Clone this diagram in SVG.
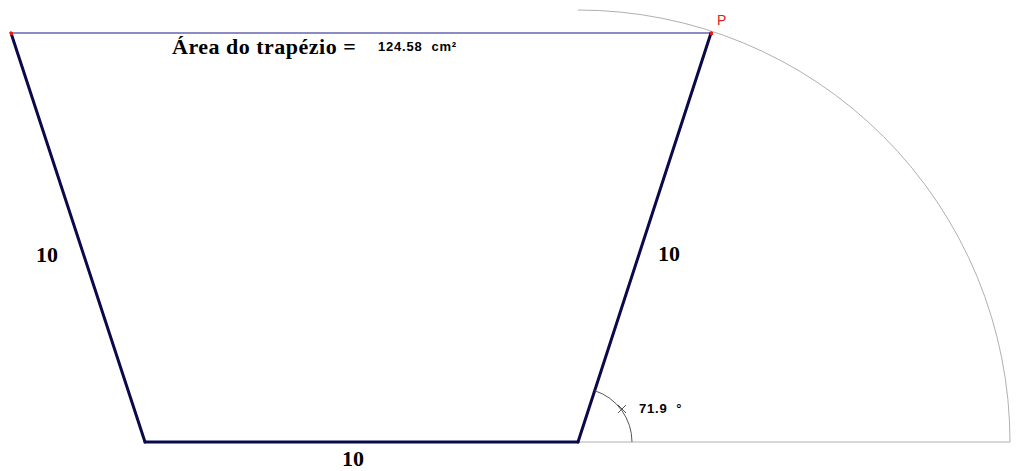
<svg xmlns="http://www.w3.org/2000/svg" width="1023" height="471" viewBox="0 0 1023 471">
<style>
.side{stroke:#0a0a4a;stroke-width:3;fill:none;stroke-linecap:round}
.thin{stroke:#b0b0b0;stroke-width:1;fill:none}
.lbl{font-family:"Liberation Serif",serif;font-weight:bold;font-size:22px;fill:#000}
.sm{font-family:"Liberation Sans",sans-serif;font-weight:bold;font-size:13px;letter-spacing:0.8px;fill:#000}
</style>
<rect width="1023" height="471" fill="#fff"/>
<g id="connectors">
<path class="thin" d="M578,10 A432,432 0 0 1 1010,442"/>
<line class="thin" x1="578" y1="442" x2="1010" y2="442"/>
<line x1="11" y1="33" x2="711" y2="33" stroke="#1a1a8a" stroke-width="1.2"/>
<line class="side" x1="11" y1="33" x2="145" y2="442"/>
<line class="side" x1="145" y1="442" x2="578" y2="442"/>
<line class="side" x1="578" y1="442" x2="711" y2="33"/>
<path d="M632,442 A54,54 0 0 0 594.8,390.7" stroke="#555" stroke-width="1" fill="none"/>
<path d="M618,405 L626,413 M618,413 L626,405" stroke="#555" stroke-width="1"/>
</g>
<g id="points">
<rect x="10" y="32" width="3" height="3" fill="#e02020"/>
<rect x="710" y="32" width="3" height="3" fill="#e02020"/>
</g>
<g id="labels">
<text x="172" y="54" class="lbl" style="letter-spacing:0.5px">Área do trapézio =</text>
<text x="378" y="51" class="sm" xml:space="preserve">124.58  cm²</text>
<text x="717" y="25" font-family="Liberation Sans,sans-serif" font-size="14" fill="#e02020">P</text>
<text x="36" y="262" class="lbl">10</text>
<text x="658" y="261" class="lbl">10</text>
<text x="342" y="466" class="lbl">10</text>
<text x="639" y="413" class="sm" xml:space="preserve">71.9  °</text>
</g>
</svg>
